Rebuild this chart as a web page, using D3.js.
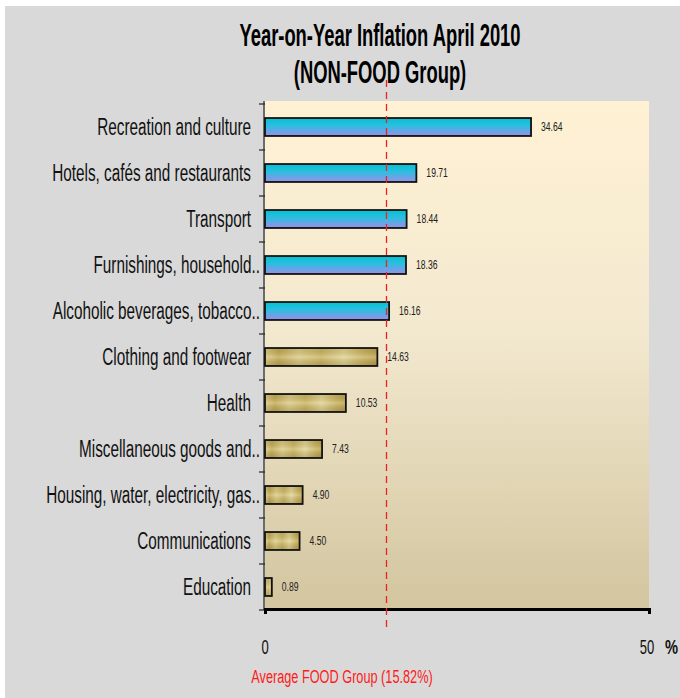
<!DOCTYPE html>
<html><head><meta charset="utf-8">
<script src="https://cdn.jsdelivr.net/npm/d3@7"></script>
<style>
html,body{margin:0;padding:0;background:#fff;}
svg{display:block;}
</style></head>
<body>
<svg id="chart" width="680" height="698"></svg>
<script>
const categories = ["Recreation and culture","Hotels, cafés and restaurants","Transport","Furnishings, household..","Alcoholic beverages, tobacco..","Clothing and footwear","Health","Miscellaneous goods and..","Housing, water, electricity, gas..","Communications","Education"];
const values = [34.64,19.71,18.44,18.36,16.16,14.63,10.53,7.43,4.90,4.50,0.89];
const valueLabels = ["34.64","19.71","18.44","18.36","16.16","14.63","10.53","7.43","4.90","4.50","0.89"];
const groupType = ["blue","blue","blue","blue","blue","gold","gold","gold","gold","gold","gold"];
const xTicks = [0,50];
const foodAverage = 15.82;
const titleLines = ["Year-on-Year Inflation April 2010","(NON-FOOD Group)"];
const avgLabel = "Average FOOD Group (15.82%)";

const FONT = "'Liberation Sans',Arial,sans-serif";
const svg = d3.select("#chart");
const W = 680, H = 698;
const m = {left:265, right:649, top:104, bottom:610};

function txt(parent, x, y, str, size, sx, anchor, fill, weight){
  return parent.append("text")
    .attr("transform",`translate(${x},${y}) scale(${sx},1)`)
    .attr("text-anchor",anchor||"start")
    .attr("font-family",FONT).attr("font-size",size)
    .attr("font-weight",weight||"normal")
    .attr("fill",fill||"#111").text(str);
}

svg.append("rect").attr("width",W).attr("height",H).attr("fill","#fff");
svg.append("rect").attr("x",5).attr("y",6).attr("width",W-5).attr("height",H-6).attr("fill","#d9d9d9");

const defs = svg.append("defs");
const bg = defs.append("linearGradient").attr("id","bgGrad").attr("x1",0).attr("y1",0).attr("x2",0).attr("y2",1);
bg.append("stop").attr("offset","0%").attr("stop-color","#fff1d4");
bg.append("stop").attr("offset","45%").attr("stop-color","#f3e9cf");
bg.append("stop").attr("offset","100%").attr("stop-color","#d2c59f");

const blue = defs.append("linearGradient").attr("id","blueGrad").attr("x1",0).attr("y1",0).attr("x2",0).attr("y2",1);
blue.append("stop").attr("offset","0%").attr("stop-color","#00c2d2");
blue.append("stop").attr("offset","45%").attr("stop-color","#30bde0");
blue.append("stop").attr("offset","100%").attr("stop-color","#9a8eea");

const gold = defs.append("linearGradient").attr("id","goldGrad").attr("x1",0).attr("y1",0).attr("x2",1).attr("y2",0);
[["0%","#dcc980"],["12%","#c2a950"],["30%","#dccb82"],["50%","#cbb45e"],["70%","#e2d390"],["88%","#c9b25a"],["100%","#bca248"]]
  .forEach(s=>gold.append("stop").attr("offset",s[0]).attr("stop-color",s[1]));
const goldV = defs.append("linearGradient").attr("id","goldShade").attr("x1",0).attr("y1",0).attr("x2",0).attr("y2",1);
goldV.append("stop").attr("offset","0%").attr("stop-color","#000").attr("stop-opacity",0.08);
goldV.append("stop").attr("offset","50%").attr("stop-color","#fff").attr("stop-opacity",0.2);
goldV.append("stop").attr("offset","100%").attr("stop-color","#000").attr("stop-opacity",0.12);

const x = d3.scaleLinear().domain([0,50]).range([m.left,m.right]);
const y = d3.scaleBand().domain(categories).range([m.top,m.bottom]).paddingInner(0.61).paddingOuter(0.305);
const band = d3.scaleBand().domain(categories).range([m.top,m.bottom]);

svg.append("rect").attr("x",m.left).attr("y",m.top-3).attr("width",m.right-m.left).attr("height",m.bottom-m.top+2).attr("fill","url(#bgGrad)");

svg.append("line").attr("x1",m.left-1).attr("x2",m.left-1).attr("y1",m.top-3).attr("y2",m.bottom).attr("stroke","#222").attr("stroke-width",1.2);
const bounds = categories.map(c=>band(c)).concat([m.bottom]);
svg.selectAll("line.ytick").data(bounds).enter().append("line")
  .attr("x1",m.left-6).attr("x2",m.left).attr("y1",d=>d).attr("y2",d=>d)
  .attr("stroke","#222").attr("stroke-width",1.2);

const rows = categories.map((c,i)=>({c, v:values[i], l:valueLabels[i], t:groupType[i]}));
const g = svg.append("g");
g.selectAll("rect.bar").data(rows).enter().append("rect")
  .attr("x",x(0)).attr("y",d=>y(d.c)).attr("width",d=>x(d.v)-x(0)).attr("height",y.bandwidth())
  .attr("fill",d=>d.t==="blue"?"url(#blueGrad)":"url(#goldGrad)")
  .attr("stroke","#111").attr("stroke-width",1.8);
g.selectAll("rect.shade").data(rows.filter(d=>d.t==="gold")).enter().append("rect")
  .attr("x",x(0)+1).attr("y",d=>y(d.c)+1).attr("width",d=>Math.max(0,x(d.v)-x(0)-2)).attr("height",y.bandwidth()-2)
  .attr("fill","url(#goldShade)").attr("stroke","none");

rows.forEach(d=>{
  const cy = y(d.c)+y.bandwidth()/2;
  txt(g, x(d.v)+10, cy+3.8, d.l, 13, 0.66, "start", "#222");
  const truncated = d.c.endsWith("..");
  txt(g, truncated ? 260 : 251, cy+7.8, d.c, 23, 0.665, "end", "#111");
});

const xa = svg.append("g").attr("transform",`translate(0,${m.bottom-1})`)
  .call(d3.axisBottom(x).tickValues(xTicks).tickSize(5).tickFormat(""));
xa.select(".domain").attr("stroke","#000").attr("stroke-width",3);
xa.selectAll(".tick line").attr("stroke","#000").attr("stroke-width",1.5);
xTicks.forEach(t=>txt(svg, x(t)+(t===0?0:-2), 653.5, String(t), 21, 0.62, "middle", "#111"));
txt(svg, 665, 654, "%", 21, 0.7, "start", "#111", "bold");

svg.append("line").attr("x1",x(foodAverage)).attr("x2",x(foodAverage)).attr("y1",80).attr("y2",630)
  .attr("stroke","#ee2020").attr("stroke-width",1.3).attr("stroke-dasharray","7,5");
txt(svg, 342, 683, avgLabel, 19, 0.67, "middle", "#ff1a1a");

titleLines.forEach((t,i)=>txt(svg, 380, 45.5+i*37, t, 31, 0.593, "middle", "#000", "bold"));
</script>
</body></html>
